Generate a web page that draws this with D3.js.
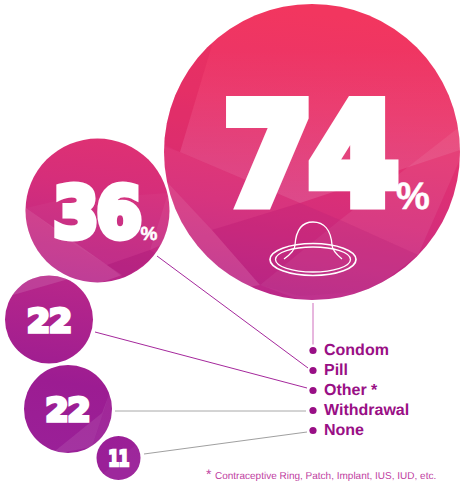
<!DOCTYPE html>
<html>
<head>
<meta charset="utf-8">
<script src="https://cdn.jsdelivr.net/npm/d3@7"></script>
<style>
  html, body { margin: 0; padding: 0; background: #fff; }
  text { font-family: "Liberation Sans", Arial, sans-serif; text-rendering: geometricPrecision; }
  .fat { font-family: "DejaVu Sans", sans-serif; font-weight: 700; }
</style>
</head>
<body>
<div id="chart"></div>
<script>
const width = 464, height = 484;

// data
const categories = ['Condom', 'Pill', 'Other *', 'Withdrawal', 'None'];
const values = [74, 36, 22, 22, 11];
const footnote = 'Contraceptive Ring, Patch, Implant, IUS, IUD, etc.';

// layout of the bubbles, same order as categories
const centerX = [312, 97.5, 49, 68, 118.5];
const centerY = [152, 210.5, 319.5, 409, 458];
const labelX = [309, 96.5, 49, 67.5, 118.5];
const labelY = [209, 240, 334, 423, 467];
const labelSize = [138, 70, 32, 32, 22];
const labelStroke = [13, 7, 3.4, 3.4, 2.4];
const labelStretch = [0.93, 0.93, 1.03, 1.03, 0.72];
const percentX = [413, 149];
const percentY = [209, 240];
const percentSize = [38, 19];
const leaderStart = [[313, 303], [157, 256], [95, 332], [115, 411], [144, 454]];
const leaderEndX = [313, 308, 307, 306, 307];
const leaderEndOffset = [-6, -2.5, -2.5, 0.5, 1.5];
const leaderColor = ['#cf6fbd', '#a5289c', '#a5289c', '#a8a8a8', '#a0a0a0'];

const radius = d3.scaleLinear().domain([0, 74]).range([0, 148]);
const legendY = d3.scalePoint().domain(categories).range([350.5, 430.5]);

const svg = d3.select('#chart').append('svg')
  .attr('width', width)
  .attr('height', height)
  .style('display', 'block');
const defs = svg.append('defs');

const grad = defs.append('linearGradient')
  .attr('id', 'bubbleFill')
  .attr('gradientUnits', 'userSpaceOnUse')
  .attr('x1', 250).attr('y1', 4)
  .attr('x2', 190).attr('y2', 470);
grad.append('stop').attr('offset', 0).attr('stop-color', '#f2365f');
grad.append('stop').attr('offset', 0.2).attr('stop-color', '#e9346a');
grad.append('stop').attr('offset', 0.42).attr('stop-color', '#d62e7a');
grad.append('stop').attr('offset', 0.62).attr('stop-color', '#b92789');
grad.append('stop').attr('offset', 0.85).attr('stop-color', '#9c1c92');
grad.append('stop').attr('offset', 1).attr('stop-color', '#9a2098');

const sheen = defs.append('linearGradient')
  .attr('id', 'sheen')
  .attr('gradientUnits', 'userSpaceOnUse')
  .attr('x1', 300).attr('y1', 50)
  .attr('x2', 300).attr('y2', 200);
sheen.append('stop').attr('offset', 0).attr('stop-color', '#fff').attr('stop-opacity', 0);
sheen.append('stop').attr('offset', 1).attr('stop-color', '#fff').attr('stop-opacity', 0.13);

categories.forEach((c, i) => {
  defs.append('clipPath').attr('id', 'clip' + i)
    .append('circle')
    .attr('cx', centerX[i])
    .attr('cy', centerY[i])
    .attr('r', radius(values[i]));
});

// leaders go under the bubbles
svg.append('g').selectAll('line')
  .data(categories)
  .join('line')
  .attr('x1', (d, i) => leaderStart[i][0])
  .attr('y1', (d, i) => leaderStart[i][1])
  .attr('x2', (d, i) => leaderEndX[i])
  .attr('y2', (d, i) => legendY(d) + leaderEndOffset[i])
  .attr('stroke', (d, i) => leaderColor[i])
  .attr('stroke-width', 1);

svg.append('g').selectAll('circle')
  .data(values)
  .join('circle')
  .attr('cx', (d, i) => centerX[i])
  .attr('cy', (d, i) => centerY[i])
  .attr('r', d => radius(d))
  .attr('fill', 'url(#bubbleFill)');

// facets, just decoration on top of the gradient
const facets = [
  // big circle
  [0, '212,45 180,152 165,145 150,90 195,40', '#d81f5c', 0.22],
  [0, '212,45 180,152 300,203 460,150 464,125 470,20 240,0', 'url(#sheen)', 1],
  [0, '168,183 212,230 260,285 230,290 160,200', '#fff', 0.11],
  [0, '180,152 300,203 212,230 168,183 160,145', '#fff', 0.03],
  [0, '212,230 300,203 340,220 418,255 386,290 300,296 260,285', '#a81a78', 0.16],
  [0, '340,220 458,128 464,150 418,255', '#fff', 0.07],
  [0, '260,285 340,220 418,255 360,300 300,300', '#fff', 0.05],
  // 36
  [1, '26,208 107,265 122,275 80,290 20,240', '#fff', 0.11],
  [1, '107,265 150,250 158,255 124,278', '#a51a78', 0.3],
  [1, '168,193 150,250 107,265 75,245 26,208 60,200', '#fff', 0.03],
  [1, '168,193 150,250 172,240', '#fff', 0.08],
  // 22 top
  [2, '13,295 72,278 60,270 10,275', '#fff', 0.12],
  // 22 bottom
  [3, '110,392 92,447 50,455 102,413', '#fff', 0.09],
  [3, '110,392 92,447 116,440', '#fff', 0.05],
  [4, '96,480 141,440 141,480', '#fff', 0.04]
];
svg.append('g').selectAll('polygon')
  .data(facets)
  .join('polygon')
  .attr('clip-path', d => `url(#clip${d[0]})`)
  .attr('points', d => d[1])
  .attr('fill', d => d[2])
  .attr('fill-opacity', d => d[3]);

// fat numbers
svg.append('g').selectAll('text')
  .data(values)
  .join('text')
  .attr('class', 'fat')
  .attr('transform', (d, i) => `translate(${labelX[i]},${labelY[i] - labelStroke[i] / 2}) scale(${labelStretch[i]},1)`)
  .attr('text-anchor', 'middle')
  .attr('font-size', (d, i) => labelSize[i])
  .attr('letter-spacing', (d, i) => i === 4 ? -1 : -0.03 * labelSize[i])
  .attr('fill', '#fff')
  .attr('stroke', '#fff')
  .attr('stroke-width', (d, i) => labelStroke[i])
  .attr('stroke-linejoin', 'miter')
  .text(d => d);

svg.append('g').selectAll('text')
  .data(percentX)
  .join('text')
  .attr('x', d => d)
  .attr('y', (d, i) => percentY[i])
  .attr('text-anchor', 'middle')
  .attr('font-weight', 700)
  .attr('font-size', (d, i) => percentSize[i])
  .attr('fill', '#fff')
  .attr('stroke', '#fff')
  .attr('stroke-width', 0.5)
  .text('%');

// condom icon
const icon = svg.append('g')
  .attr('fill', 'none')
  .attr('stroke', '#fff')
  .attr('stroke-width', 1.3);
icon.append('ellipse').attr('cx', 313).attr('cy', 259.5).attr('rx', 43).attr('ry', 16).attr('stroke-width', 1.7);
icon.append('ellipse').attr('cx', 313).attr('cy', 259.5).attr('rx', 37.5).attr('ry', 12.5);
icon.append('path')
  .attr('d', 'M284,259 C291,254 295,249 295,245 C296,230 302,222 313,222 C324,222 331,230 332,245 C332,249 336,254 342,259');

// legend
svg.append('g').selectAll('circle')
  .data(categories)
  .join('circle')
  .attr('cx', 313)
  .attr('cy', d => legendY(d))
  .attr('r', 3.6)
  .attr('fill', '#990f85');

svg.append('g').selectAll('text')
  .data(categories)
  .join('text')
  .attr('x', 324)
  .attr('y', d => legendY(d) + 4.5)
  .attr('font-weight', 700)
  .attr('font-size', 16)
  .attr('fill', '#990f85')
  .text(d => d);

svg.append('text')
  .attr('x', 206)
  .attr('y', 479)
  .attr('font-size', 14)
  .attr('fill', '#c0409f')
  .text('*');
svg.append('text')
  .attr('x', 215)
  .attr('y', 479)
  .attr('font-size', 10)
  .attr('fill', '#c0409f')
  .text(footnote);
</script>
</body>
</html>
